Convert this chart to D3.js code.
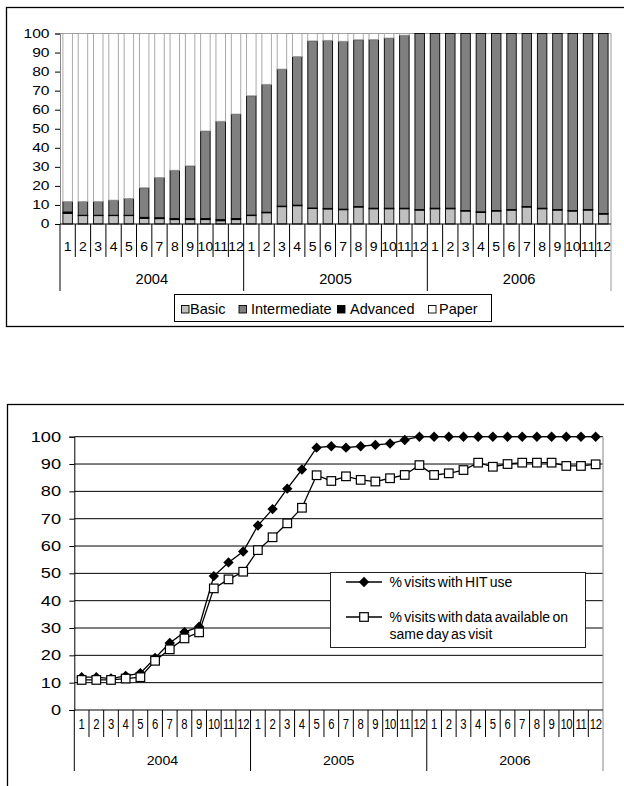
<!DOCTYPE html>
<html><head><meta charset="utf-8">
<script src="https://cdn.jsdelivr.net/npm/d3@7"></script>
<style>
body{margin:0;background:#fff}
svg{display:block}
text{font-family:"Liberation Sans",Arial,sans-serif;fill:#000}
</style>
</head><body>
<svg id="c" width="624" height="786"></svg>
<script>
// ---------------- DATA ----------------
const monthLabels = ["1","2","3","4","5","6","7","8","9","10","11","12"];
const years = ["2004","2005","2006"];
const yTicks = [0,10,20,30,40,50,60,70,80,90,100];

// Top chart: share of visits by HIT level (%)
const basic = [5.6,4.4,4.4,4.4,4.4,3.0,2.8,2.3,2.3,2.3,1.7,2.3,
               4.4,5.9,9.1,9.6,8.1,7.9,7.5,8.9,8.0,8.0,8.0,7.3,
               8.0,8.0,6.8,6.1,6.8,7.3,8.9,8.0,7.3,6.8,7.3,5.2];
const advanced = [0.7,0.2,0.2,0.2,0.2,0.5,0.5,0.6,0.6,0.6,0.6,0.6,
                  0.3,0.3,0.3,0.3,0.3,0.3,0.3,0.3,0.3,0.3,0.3,0.3,
                  0.3,0.3,0.3,0.3,0.3,0.3,0.3,0.3,0.3,0.3,0.3,0.3];
const intermediate = [5.5,7.2,7.2,7.9,8.8,15.5,21.1,25.3,27.6,45.9,51.6,54.8,
                      62.6,67.1,71.9,78.0,87.7,88.2,88.1,87.5,88.5,89.3,90.8,92.4,
                      91.7,91.7,92.9,93.6,92.9,92.4,90.8,91.7,92.4,92.9,92.4,94.5];
const paper = [88.2,88.2,88.2,87.5,86.6,81.0,75.6,71.8,69.5,51.2,46.1,42.3,
               32.7,26.7,18.7,12.1,3.9,3.6,4.1,3.3,3.2,2.4,0.9,0,
               0,0,0,0,0,0,0,0,0,0,0,0];
const topSeries = ["Basic","Intermediate","Advanced","Paper"];

// Bottom chart (%)
const hitUse = [12,12,11.5,12.5,13.5,19,24.5,28.5,30.5,49,54,58,
                67.5,73.5,81,88,96,96.5,96,96.5,97,97.5,98.8,100,
                100,100,100,100,100,100,100,100,100,100,100,100];
const sameDay = [11,11,11,11.5,12,18,22.2,26.2,28.4,44.5,47.8,50.6,
                 58.5,63.2,68.3,74,85.9,83.8,85.5,84.2,83.6,84.8,86,89.6,
                 86,86.6,87.8,90.5,89,90,90.5,90.5,90.5,89.3,89.3,89.9];
const bottomLegend = ["% visits with HIT use", "% visits with data available on", "same day as visit"];

// ---------------- HELPERS ----------------
const svg = d3.select("#c");
const cats = years.flatMap(y => monthLabels.map(m => y + "-" + m));
function lbl(g, x, y, txt, size, sx, anchor) {
  return g.append("text")
    .attr("transform", `translate(${x},${y}) scale(${sx},1)`)
    .attr("font-size", size).attr("text-anchor", anchor).text(txt);
}
function hline(g, x1, x2, y, col, w) {
  g.append("line").attr("x1", x1).attr("x2", x2).attr("y1", y).attr("y2", y)
    .attr("stroke", col).attr("stroke-width", w || 1);
}
function vline(g, x, y1, y2, col, w) {
  g.append("line").attr("x1", x).attr("x2", x).attr("y1", y1).attr("y2", y2)
    .attr("stroke", col).attr("stroke-width", w || 1);
}

// ---------------- TOP CHART ----------------
const gT = svg.append("g");
gT.append("rect").attr("x", 6.5).attr("y", 7.5).attr("width", 720).attr("height", 319)
  .attr("fill", "none").attr("stroke", "#000").attr("stroke-width", 1.3);

const xT = d3.scaleBand().domain(cats).range([60, 611]).paddingInner(0.38).paddingOuter(0.19);
const yT = d3.scaleLinear().domain([0, 100]).range([224, 33.5]);

// plot area border (gray)
hline(gT, 60, 611, yT(100), "#999");
vline(gT, 611, yT(100), 291, "#999");

const rows = cats.map((c, i) => ({cat: c, Basic: basic[i], Advanced: advanced[i],
  Intermediate: intermediate[i], Paper: paper[i]}));
const stack = d3.stack().keys(["Basic", "Advanced", "Intermediate", "Paper"])(rows);
const fills = {Basic: "#c0c0c0", Intermediate: "#808080", Advanced: "#000000", Paper: "#ffffff"};
const strokes = {Basic: "#000", Intermediate: "#000", Advanced: "#000", Paper: "#a0a0a0"};

stack.forEach(layer => {
  gT.append("g").selectAll("rect")
    .data(layer.filter(d => d[1] - d[0] > 0))
    .join("rect")
    .attr("x", d => xT(d.data.cat))
    .attr("width", xT.bandwidth())
    .attr("y", d => yT(d[1]))
    .attr("height", d => yT(d[0]) - yT(d[1]))
    .attr("fill", fills[layer.key])
    .attr("stroke", strokes[layer.key])
    .attr("stroke-width", 0.9);
});

// y axis
const axT = gT.append("g").attr("transform", "translate(60,0)")
  .call(d3.axisLeft(yT).tickValues(yTicks).tickSize(5).tickFormat(""));
axT.select(".domain").attr("stroke", "#888");
axT.selectAll(".tick line").attr("stroke", "#000");
yTicks.forEach(t => lbl(gT, 49.5, yT(t) + 4.4, String(t), 12, 1.3, "end"));

// x axis
hline(gT, 60, 611, yT(0), "#000");
const stepT = xT.step();
d3.range(cats.length).forEach(i => {
  const x = 60 + i * stepT;
  vline(gT, x, yT(0), i % 12 === 0 ? 291 : 257, "#000");
});
cats.forEach((c, i) => lbl(gT, xT(c) + xT.bandwidth() / 2, 250.5, monthLabels[i % 12], 13, 1.08, "middle"));
years.forEach((y, k) => lbl(gT, 60 + (k * 12 + 6) * stepT, 284, y, 14, 1.05, "middle"));

// legend
const lgT = gT.append("g");
lgT.append("rect").attr("x", 174.5).attr("y", 294.5).attr("width", 317).attr("height", 27)
  .attr("fill", "#fff").attr("stroke", "#000").attr("stroke-width", 1);
const lgPos = [[181, 190], [238.5, 251], [337, 350], [428, 439]];
topSeries.forEach((s, i) => {
  lgT.append("rect").attr("x", lgPos[i][0] + 0.5).attr("y", 305.5).attr("width", 7.5).attr("height", 7.5)
    .attr("fill", fills[s]).attr("stroke", "#000").attr("stroke-width", 0.9);
  lbl(lgT, lgPos[i][1], 313.5, s, 14.5, 1.0, "start");
});

// ---------------- BOTTOM CHART ----------------
const gB = svg.append("g");
gB.append("rect").attr("x", 7.5).attr("y", 404.5).attr("width", 720).attr("height", 500)
  .attr("fill", "none").attr("stroke", "#000").attr("stroke-width", 1.3);

const xB = d3.scaleBand().domain(cats).range([74.3, 603]).padding(0);
const yB = d3.scaleLinear().domain([0, 100]).range([710, 436.7]);
const cx = c => xB(c) + xB.bandwidth() / 2;

// gridlines
yTicks.filter(t => t > 0).forEach(t => hline(gB, 74.3, 603, yB(t), "#000", 1));
vline(gB, 603, yB(100), 771, "#999", 1.2);

// y axis
const axB = gB.append("g").attr("transform", "translate(74.3,0)")
  .call(d3.axisLeft(yB).tickValues(yTicks).tickSize(5).tickFormat(""));
axB.select(".domain").attr("stroke", "#000");
axB.selectAll(".tick line").attr("stroke", "#000");
yTicks.forEach(t => lbl(gB, 61, yB(t) + 5, String(t), 14, 1.3, "end"));

// x axis
hline(gB, 74.3, 603, yB(0), "#000", 1.2);
const stepB = xB.step();
d3.range(cats.length).forEach(i => {
  const x = 74.3 + i * stepB;
  vline(gB, x, yB(0), i % 12 === 0 ? 771 : 737, "#000");
});
cats.forEach((c, i) => {
  const t = lbl(gB, cx(c), 729, monthLabels[i % 12], 14.5, 0.78, "middle");
  if (monthLabels[i % 12].length > 1) t.attr("letter-spacing", -0.6);
});
years.forEach((y, k) => lbl(gB, 74.3 + (k * 12 + 6) * stepB, 764.5, y, 12, 1.18, "middle"));

// lines
const line = d3.line().x((d, i) => cx(cats[i])).y(d => yB(d));
const diamond = "M0,-5.2L5.2,0L0,5.2L-5.2,0Z";

gB.append("path").datum(hitUse).attr("d", line)
  .attr("fill", "none").attr("stroke", "#000").attr("stroke-width", 1.3);
gB.append("g").selectAll("path").data(hitUse).join("path")
  .attr("transform", (d, i) => `translate(${cx(cats[i])},${yB(d)})`)
  .attr("d", diamond).attr("fill", "#000");

gB.append("path").datum(sameDay).attr("d", line)
  .attr("fill", "none").attr("stroke", "#000").attr("stroke-width", 1.3);
gB.append("g").selectAll("rect").data(sameDay).join("rect")
  .attr("x", (d, i) => cx(cats[i]) - 4.3).attr("y", d => yB(d) - 4.3)
  .attr("width", 8.6).attr("height", 8.6)
  .attr("fill", "#fff").attr("stroke", "#000").attr("stroke-width", 1.2);

// legend
const lgB = gB.append("g");
lgB.append("rect").attr("x", 330.5).attr("y", 572.5).attr("width", 255).attr("height", 75)
  .attr("fill", "#fff").attr("stroke", "#222").attr("stroke-width", 1);
hline(lgB, 346, 382, 582, "#000", 1.3);
lgB.append("path").attr("transform", "translate(364,582)").attr("d", diamond).attr("fill", "#000");
hline(lgB, 346, 382, 617, "#000", 1.3);
lgB.append("rect").attr("x", 359.7).attr("y", 612.7).attr("width", 8.6).attr("height", 8.6)
  .attr("fill", "#fff").attr("stroke", "#000").attr("stroke-width", 1.2);
lbl(lgB, 389.5, 587, bottomLegend[0], 14, 1.0, "start").attr("word-spacing", -1.5);
lbl(lgB, 389.5, 622, bottomLegend[1], 14, 1.0, "start").attr("word-spacing", -1.5);
lbl(lgB, 389.5, 639, bottomLegend[2], 14, 1.0, "start").attr("word-spacing", -1.5);
</script>
</body></html>
